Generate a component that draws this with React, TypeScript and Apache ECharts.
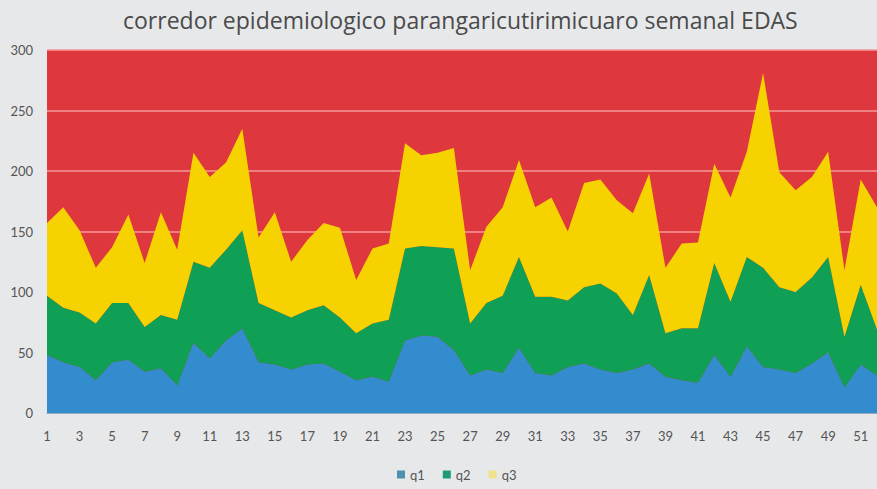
import React, { useEffect, useRef } from "react";
import * as echarts from "echarts";

const weeks: string[] = Array.from({ length: 52 }, (_, i) => String(i + 1));
const q1: number[] = [48,42,38,27,42,44,34,37,23,58,45,60,70,42,40,36,40,41,34,27,30,26,60,64,63,52,31,36,33,54,33,31,38,41,36,33,36,41,30,27,25,48,30,55,38,36,33,41,50,21,40,31];
const q2: number[] = [49,45,45,47,49,47,37,44,54,67,75,75,81,49,45,43,45,48,45,39,44,51,76,74,74,84,43,55,64,75,63,65,55,63,71,66,45,73,36,43,45,76,62,74,82,68,67,71,79,42,66,38];
const q3: number[] = [60,83,68,46,46,73,53,85,58,90,75,72,84,54,81,46,58,68,74,44,62,63,87,75,78,83,44,63,73,80,74,82,57,86,86,77,84,84,54,70,71,82,86,87,161,95,84,83,87,55,87,101];
const yTicks = { min: 0, max: 300, interval: 50 };
const title = "corredor epidemiologico parangaricutirimicuaro semanal EDAS";

export default function App() {
  const ref = useRef<HTMLDivElement>(null);
  useEffect(() => {
    if (!ref.current) return;
    const chart = echarts.init(ref.current, null, { renderer: "svg" });
    const font = "Lato, 'Open Sans', sans-serif";
    const mk = (name: string, data: number[], color: string, legendColor: string) => ({
      name,
      type: "line",
      stack: "total",
      data,
      symbol: "none",
      lineStyle: { width: 0 },
      areaStyle: { color, opacity: 1 },
      itemStyle: { color: legendColor },
    });
    chart.setOption({
      animation: false,
      backgroundColor: "#e7e8ea",
      textStyle: { fontFamily: font },
      title: {
        text: title,
        left: 118,
        top: 3,
        textStyle: { fontSize: 23, fontWeight: "normal", color: "#4a4a4a", fontFamily: "'Open Sans', sans-serif" },
      },
      legend: {
        bottom: 3,
        left: 392,
        itemWidth: 8,
        itemHeight: 8,
        itemGap: 18,
        icon: "rect",
        textStyle: { fontSize: 13, color: "#555", fontFamily: font },
        data: ["q1", "q2", "q3"],
      },
      grid: {
        left: 47,
        right: -6,
        top: 50,
        bottom: 76,
        show: true,
        backgroundColor: "#de373d",
        borderWidth: 0,
      },
      xAxis: {
        type: "category",
        data: weeks,
        boundaryGap: false,
        axisTick: { show: false },
        axisLine: { show: true, lineStyle: { color: "#9ab", width: 1 } },
        axisLabel: { interval: 1, color: "#555", fontSize: 13, margin: 16 },
      },
      yAxis: {
        type: "value",
        min: yTicks.min,
        max: yTicks.max,
        interval: yTicks.interval,
        axisLine: { show: false },
        axisTick: { show: false },
        axisLabel: { color: "#555", fontSize: 13, margin: 14 },
        splitLine: { lineStyle: { color: "#f49a98", width: 1.5 } },
      },
      series: [
        mk("q1", q1, "#338cce", "#4f8fb0"),
        mk("q2", q2, "#0f9f55", "#1f9a78"),
        mk("q3", q3, "#f5d200", "#efe28a"),
      ],
    });
    return () => chart.dispose();
  }, []);
  return (
    <div
      ref={ref}
      style={{ position: "fixed", left: 0, top: 0, width: 877, height: 489 }}
    />
  );
}
